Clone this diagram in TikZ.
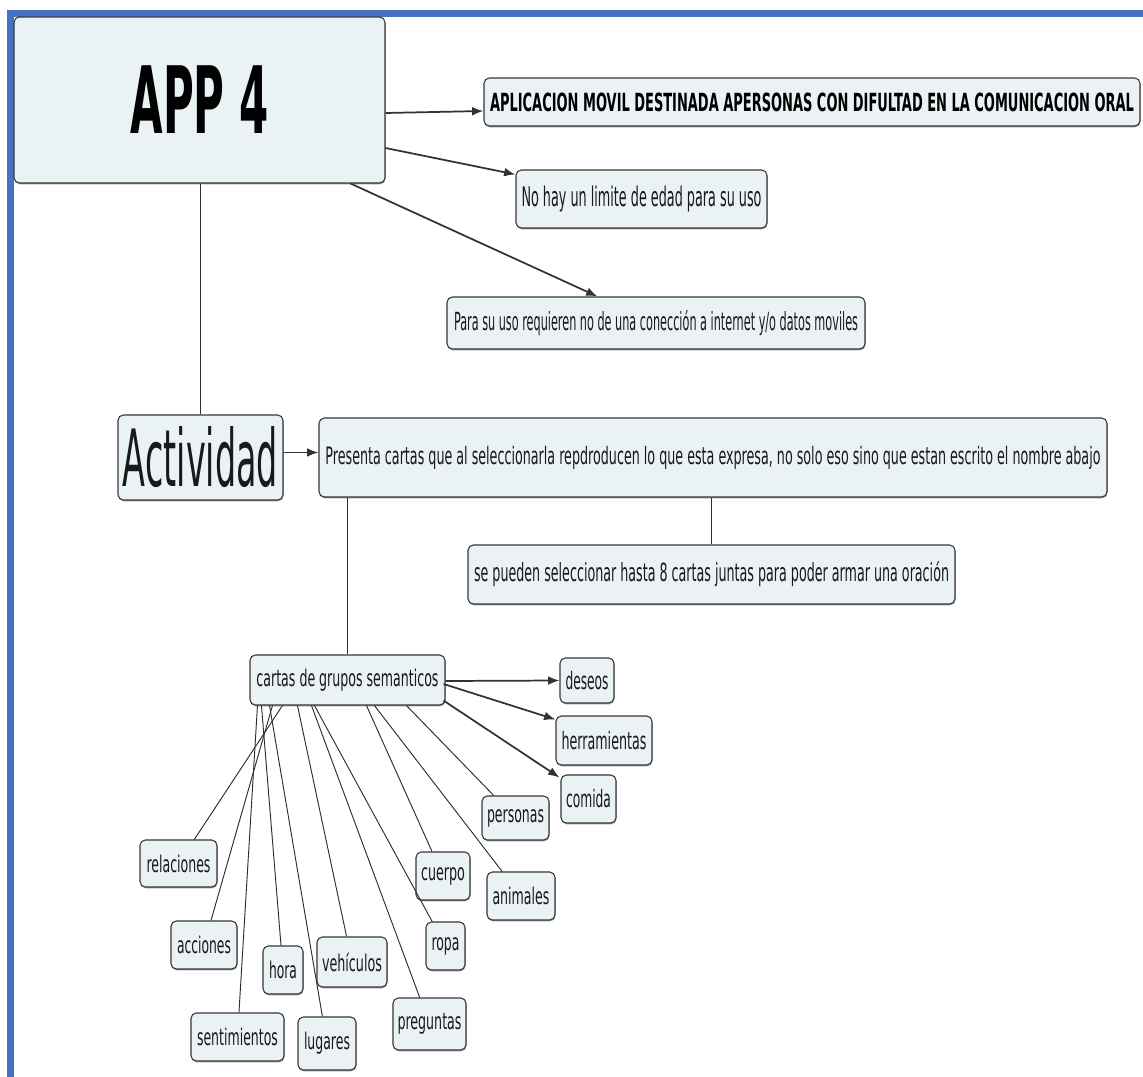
\documentclass[tikz,border=0pt]{standalone}
\usepackage{fontspec}
\setmainfont{DejaVu Sans}
\usepackage{graphicx}
\usetikzlibrary{arrows.meta,calc,shadows}
\newdimen\pxu \pxu=0.75pt
\newcommand\fitw[3]{\resizebox{#1\pxu}{\height}{\fontsize{#2\pxu}{#2\pxu}\selectfont #3}}
\definecolor{bluec}{RGB}{68,114,196}
\definecolor{boxfill}{RGB}{234,242,245}
\definecolor{boxline}{RGB}{55,55,55}
\definecolor{textc}{RGB}{25,25,25}
\definecolor{arrc}{RGB}{50,50,50}
\definecolor{linkc}{RGB}{45,45,45}
\begin{document}
\begin{tikzpicture}[x=0.75pt,y=-0.75pt,
  cbox/.style 2 args={draw=boxline, fill=boxfill, rounded corners=4pt, line width=0.8pt,
    inner sep=0pt, minimum width=#1*0.75pt, minimum height=#2*0.75pt, text=textc,
    drop shadow={shadow xshift=0.4pt,shadow yshift=-1pt,opacity=0.4,fill=black}},
  arr/.style={draw=arrc, line width=1.3pt, -{Latex[length=8.5pt,width=6.5pt]}},
  link/.style={draw=linkc, line width=0.7pt}]
\useasboundingbox (0,0) rectangle (1143,1077);
\fill[white] (0,0) rectangle (1143,1077);
% blue frame
\fill[bluec] (7,10) rectangle (1143,17);
\fill[bluec] (7,10) rectangle (14,1077);

% nodes
\node[cbox={371}{166}, text=black] (app) at (199.5,100) {\fitw{138}{93}{\bfseries APP 4}};
\node[cbox={656}{48}, text=black] (aplic) at (812,102) {\fitw{644}{25}{\bfseries APLICACION MOVIL DESTINADA APERSONAS CON DIFULTAD EN LA COMUNICACION ORAL}};
\node[cbox={251}{58}] (nohay) at (641.5,199) {\fitw{240}{27}{No hay un limite de edad para su uso}};
\node[cbox={418}{52}] (para) at (656,323) {\fitw{404}{25}{Para su uso requieren no de una conección a internet y/o datos moviles}};
\node[cbox={165}{85}] (activ) at (200.5,457.5) {\fitw{155}{79}{Actividad}};
\node[cbox={788}{79}] (pres) at (713,457.5) {\fitw{775}{24}{Presenta cartas que al seleccionarla repdroducen lo que esta expresa, no solo eso sino que estan escrito el nombre abajo}};
\node[cbox={487}{59}] (sepu) at (711.5,574.5) {\fitw{475}{25}{se pueden seleccionar hasta 8 cartas juntas para poder armar una oración}};
\node[cbox={195}{50}] (cartas) at (347.5,680) {\fitw{182}{23}{cartas de grupos semanticos}};
\node[cbox={54}{45}] (deseos) at (587,680.5) {\fitw{43}{24}{deseos}};
\node[cbox={96}{49}] (herr) at (604,740.5) {\fitw{85}{24}{herramientas}};
\node[cbox={55}{48}] (comida) at (588.5,799) {\fitw{45}{24}{comida}};
\node[cbox={67}{44}] (personas) at (515.5,818) {\fitw{57}{23}{personas}};
\node[cbox={77}{47}] (relac) at (178.5,863.5) {\fitw{64}{23}{relaciones}};
\node[cbox={54}{48}] (cuerpo) at (443,876) {\fitw{44}{23}{cuerpo}};
\node[cbox={68}{48}] (animales) at (521,896) {\fitw{57}{23}{animales}};
\node[cbox={66}{48}] (acciones) at (204,945) {\fitw{54}{23}{acciones}};
\node[cbox={39}{48}] (ropa) at (445.5,946) {\fitw{28}{23}{ropa}};
\node[cbox={40}{48}] (hora) at (283,970) {\fitw{28}{23}{hora}};
\node[cbox={70}{50}] (vehic) at (352,962) {\fitw{60}{23}{vehículos}};
\node[cbox={93}{48}] (sent) at (237.5,1037) {\fitw{81}{23}{sentimientos}};
\node[cbox={58}{53}] (lugares) at (327,1043.5) {\fitw{46}{23}{lugares}};
\node[cbox={73}{52}] (preg) at (429.5,1024) {\fitw{64}{23}{preguntas}};

% connectors
\draw[arr] ($(app.east)+(0,13)$) -- ($(aplic.west)+(0,9)$);
\draw[arr] ($(app.east)+(0,48)$) -- ($(nohay.north west)+(0,5)$);
\draw[arr] ($(app.south east)+(-35,0)$) -- ($(para.north west)+(151,0)$);
\draw[link] (app.south -| activ.north) -- (activ.north);
\draw[arr] ($(activ.east)+(0,-5)$) -- ($(pres.west)+(0,-5)$);
\draw[link] (sepu.north |- pres.south) -- (sepu.north);
\draw[link] (cartas.north |- pres.south) -- (cartas.north);
\draw[arr] ($(cartas.east)+(0,1)$) -- (deseos.west);
\draw[arr] ($(cartas.east)+(-2,4)$) -- ($(herr.north west)+(0,4)$);
\draw[arr] ($(cartas.south east)+(-2,-5)$) -- ($(comida.north west)+(-1,3)$);
\draw[link] ($(cartas.south west)+(8,0)$) -- (sent);
\draw[link] ($(cartas.south west)+(12,0)$) -- (hora);
\draw[link] ($(cartas.south west)+(20,0)$) -- (lugares);
\draw[link] ($(cartas.south west)+(23,0)$) -- (acciones);
\draw[link] ($(cartas.south west)+(33,0)$) -- (relac);
\draw[link] ($(cartas.south west)+(48,0)$) -- (vehic);
\draw[link] ($(cartas.south west)+(62,0)$) -- (preg);
\draw[link] ($(cartas.south west)+(65,0)$) -- (ropa);
\draw[link] ($(cartas.south west)+(117,0)$) -- (cuerpo);
\draw[link] ($(cartas.south west)+(125,0)$) -- (animales);
\draw[link] ($(cartas.south west)+(157,0)$) -- (personas);
\end{tikzpicture}
\end{document}
